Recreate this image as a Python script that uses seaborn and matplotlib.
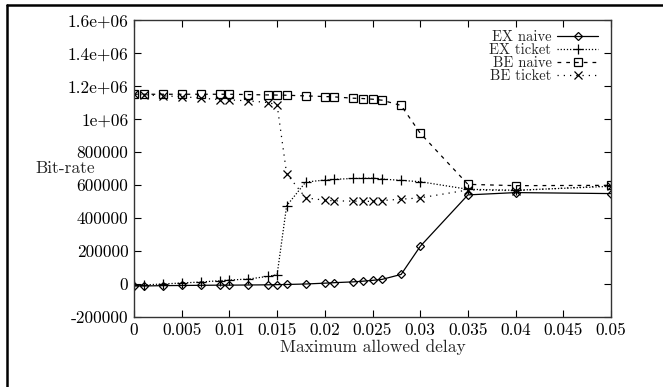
import seaborn as sns
import matplotlib.pyplot as plt
from matplotlib.lines import Line2D

# data
delay = [0, 0.001, 0.003, 0.005, 0.007, 0.009, 0.01, 0.012, 0.014, 0.015, 0.016, 0.018,
         0.02, 0.021, 0.023, 0.024, 0.025, 0.026, 0.028, 0.03, 0.035, 0.04, 0.05]
ex_naive = [-12000, -12000, -10000, -9000, -8000, -7000, -7000, -6000, -5000, -4000, -3000, 0,
            5000, 8000, 13000, 17000, 22000, 28000, 58000, 228000, 540000, 554000, 548000]
ex_ticket = [-6000, -6000, 0, 6000, 12000, 20000, 24000, 30000, 46000, 56000, 474000, 618000,
             630000, 634000, 640000, 640000, 642000, 636000, 628000, 620000, 574000, 568000, 592000]
be_naive = [1150000, 1150000, 1150000, 1150000, 1150000, 1150000, 1150000, 1148000, 1146000, 1145000, 1144000, 1140000,
            1136000, 1134000, 1126000, 1124000, 1120000, 1114000, 1082000, 914000, 604000, 596000, 598000]
be_ticket = [1150000, 1148000, 1140000, 1136000, 1126000, 1118000, 1116000, 1110000, 1100000, 1086000, 668000, 522000,
             508000, 504000, 502000, 502000, 500000, 506000, 514000, 522000, 570000, 566000, 596000]
series_names = ["EX naive", "EX ticket", "BE naive", "BE ticket"]

xticks = [0, 0.005, 0.01, 0.015, 0.02, 0.025, 0.03, 0.035, 0.04, 0.045, 0.05]
xtick_labels = ["0", "0.005", "0.01", "0.015", "0.02", "0.025", "0.03", "0.035", "0.04", "0.045", "0.05"]
yticks = [-200000, 0, 200000, 400000, 600000, 800000, 1000000, 1200000, 1400000, 1600000]
ytick_labels = ["-200000", "0", "200000", "400000", "600000", "800000", "1e+06", "1.2e+06", "1.4e+06", "1.6e+06"]

sns.set_style("ticks", {"xtick.direction": "in", "ytick.direction": "in"})
plt.rcParams["font.family"] = ["cmr10", "DejaVu Serif"]
plt.rcParams["axes.unicode_minus"] = False

fig = plt.figure(figsize=(6.63, 3.87), dpi=100)
ax = fig.add_axes([0.2021, 0.1809, 0.7195, 0.7674])

styles = [
    (ex_naive, "D", "-", 4.5),
    (ex_ticket, "+", (0, (1, 1.5)), 7.5),
    (be_naive, "s", (0, (3, 4)), 5.5),
    (be_ticket, "x", (0, (1, 4)), 6),
]
for name, (vals, mk, ls, ms) in zip(series_names, styles):
    sns.lineplot(x=delay, y=vals, ax=ax, color="black", linestyle=ls, linewidth=0.9,
                 marker=mk, markersize=ms, markerfacecolor="none", markeredgecolor="black",
                 markeredgewidth=0.9, label=name)

ax.set_xlim(0, 0.05)
ax.set_ylim(-200000, 1600000)
ax.set_xticks(xticks)
ax.set_xticklabels(xtick_labels, fontsize=12.5)
ax.set_yticks(yticks)
ax.set_yticklabels(ytick_labels, fontsize=12.5)
ax.tick_params(direction="in", length=5, width=0.8, top=True, right=True, pad=4, colors="black")
for s in ax.spines.values():
    s.set_color("#333333")
    s.set_linewidth(1.0)

ax.set_xlabel("Maximum allowed delay", fontsize=12.5, labelpad=1)
ax.set_ylabel("Bit-rate", fontsize=12.5, rotation=0, va="center")
ax.yaxis.set_label_coords(-0.145, 0.50)

handles, labels = ax.get_legend_handles_labels()
ax.legend(handles, labels, loc="upper right", bbox_to_anchor=(0.973, 0.965), frameon=False,
          markerfirst=False, fontsize=10.5, labelspacing=-0.05, handlelength=2.8,
          handletextpad=0.4, borderaxespad=0, borderpad=0)

# outer frame (only top and left edges visible in the reference)
fig.add_artist(Line2D([0.0106, 1.0], [0.987, 0.987], transform=fig.transFigure, color="black", lw=1.8))
fig.add_artist(Line2D([0.0106, 0.0106], [0.0, 0.987], transform=fig.transFigure, color="black", lw=1.8))

fig.savefig("out.png", dpi=100)
